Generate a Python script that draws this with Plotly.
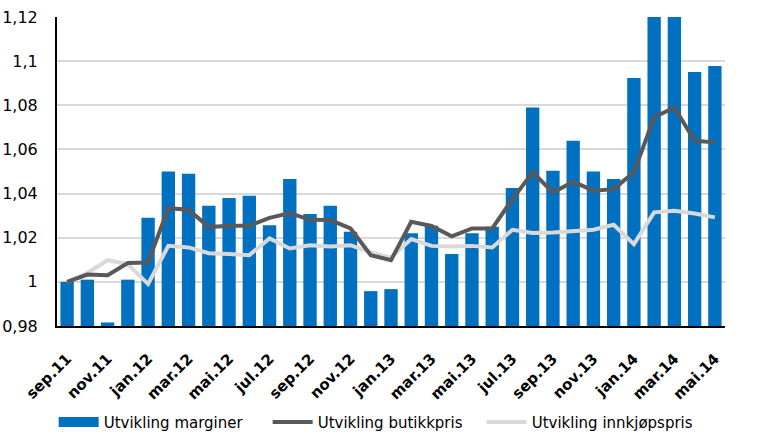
import plotly.graph_objects as go

months = ["sep.11","okt.11","nov.11","des.11","jan.12","feb.12","mar.12","apr.12","mai.12","jun.12",
          "jul.12","aug.12","sep.12","okt.12","nov.12","des.12","jan.13","feb.13","mar.13","apr.13",
          "mai.13","jun.13","jul.13","aug.13","sep.13","okt.13","nov.13","des.13","jan.14","feb.14",
          "mar.14","apr.14","mai.14"]

marginer = [1.000, 1.001, 0.9816, 1.001, 1.029, 1.050, 1.049, 1.0345, 1.038, 1.039,
            1.0257, 1.0466, 1.0307, 1.0345, 1.0227, 0.9958, 0.9967, 1.022, 1.0254, 1.0126,
            1.022, 1.025, 1.0425, 1.079, 1.0503, 1.0639, 1.050, 1.0466, 1.0924, 1.135,
            1.135, 1.0951, 1.0978]

butikkpris = [1.000, 1.0033, 1.003, 1.0085, 1.0088, 1.0334, 1.0327, 1.0248, 1.0254, 1.0254,
              1.029, 1.0312, 1.0281, 1.028, 1.0242, 1.0121, 1.0098, 1.0272, 1.0253, 1.0206,
              1.0242, 1.0242, 1.0375, 1.0496, 1.0405, 1.0454, 1.0413, 1.042, 1.0496, 1.0746,
              1.079, 1.0639, 1.0632]

innkjopspris = [1.000, 1.004, 1.0098, 1.008, 0.999, 1.0163, 1.0156, 1.013, 1.0126, 1.0121,
                1.0197, 1.0151, 1.0166, 1.016, 1.0166, 1.0133, 1.011, 1.0194, 1.0163, 1.016,
                1.0163, 1.0156, 1.0236, 1.0221, 1.0224, 1.0231, 1.0236, 1.0259, 1.0171, 1.0315,
                1.0322, 1.031, 1.0292]

y_tickvals = [0.98, 1.00, 1.02, 1.04, 1.06, 1.08, 1.10, 1.12]
y_ticktext = ["0,98", "1", "1,02", "1,04", "1,06", "1,08", "1,1", "1,12"]
x_ticks = months[::2]
BASE = 0.98

BLUE = "#0070C0"
DARK = "#595959"
LIGHT = "#D9D9D9"

fig = go.Figure()
fig.add_trace(go.Bar(x=months, y=[v - BASE for v in marginer], base=BASE,
                     name="Utvikling marginer", showlegend=False,
                     marker=dict(color=BLUE, line=dict(width=0))))
# legend entries (wide swatches as in the reference)
fig.add_trace(go.Scatter(x=[None], y=[None], mode="lines", name="Utvikling marginer",
                         line=dict(color=BLUE, width=10), legendrank=1))
fig.add_trace(go.Scatter(x=months, y=innkjopspris, name="Utvikling innkjøpspris", mode="lines",
                         line=dict(color=LIGHT, width=4), legendrank=3))
fig.add_trace(go.Scatter(x=months, y=butikkpris, name="Utvikling butikkpris", mode="lines",
                         line=dict(color=DARK, width=4), legendrank=2))

fig.update_layout(
    width=759, height=438,
    margin=dict(l=57, r=34, t=17, b=112, autoexpand=False),
    plot_bgcolor="white", paper_bgcolor="white",
    font=dict(family="DejaVu Sans", size=14, color="#000000"),
    bargap=0.34,
    legend=dict(orientation="h", x=-0.005, xanchor="left", y=-0.258, yanchor="top",
                font=dict(size=15), traceorder="normal",
                entrywidth=159, entrywidthmode="pixels", itemwidth=40),
    showlegend=True,
)
fig.update_xaxes(type="category", tickvals=x_ticks, ticktext=x_ticks, tickangle=-45,
                 showline=True, linecolor="#000000", linewidth=2, showgrid=False,
                 ticks="", tickfont=dict(size=15, weight="bold"),
                 automargin=False, ticklabelstandoff=16)
fig.update_yaxes(range=[0.98, 1.12], tickvals=y_tickvals, ticktext=y_ticktext,
                 showgrid=True, gridcolor="#D9D9D9", gridwidth=1.5,
                 showline=True, linecolor="#000000", linewidth=2, zeroline=False,
                 ticks="", tickfont=dict(size=16), ticklabelstandoff=14, automargin=False,
                 ticklabeloverflow="allow")

fig.write_html("out.html", config={"displayModeBar": False},
               post_script="document.body.style.margin='0px';document.body.style.overflow='hidden';")
